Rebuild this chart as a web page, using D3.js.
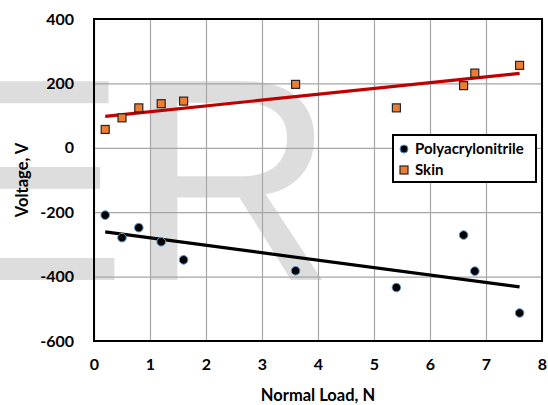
<!DOCTYPE html>
<html>
<head>
<meta charset="utf-8">
<script src="https://cdn.jsdelivr.net/npm/d3@7"></script>
<style>
  html, body { margin: 0; padding: 0; background: #fff; }
  svg { display: block; font-family: Lato, "Open Sans", sans-serif; font-weight: bold; }
</style>
</head>
<body>
<svg id="chart" width="548" height="405"></svg>
<script>
// Normal load (N) vs. voltage (V) readings.
const panLoad = [0.2, 0.5, 0.8, 1.2, 1.6, 3.6, 5.4, 6.6, 6.8, 7.6];
const panVolt = [-209, -279, -248, -292, -348, -382, -434, -271, -383, -513];
const skinLoad = [0.2, 0.5, 0.8, 1.2, 1.6, 3.6, 5.4, 6.6, 6.8, 7.6];
const skinVolt = [57, 93, 124, 137, 145, 197, 124, 193, 232, 256];
const xTicks = [0, 1, 2, 3, 4, 5, 6, 7, 8];
const yTicks = [-600, -400, -200, 0, 200, 400];

const svg = d3.select("#chart");
const m = { left: 94, top: 19, right: 542, bottom: 341 };

const x = d3.scaleLinear().domain([0, 8]).range([m.left, m.right]);
const y = d3.scaleLinear().domain([-600, 400]).range([m.bottom, m.top]);

// faint watermark behind everything
svg.append("text")
  .attr("x", -66).attr("y", 280)
  .attr("font-family", "'Liberation Sans', Arial, sans-serif")
  .attr("font-weight", "normal")
  .attr("font-size", 289)
  .attr("fill", "#dddddd")
  .text("ER");

// gridlines
svg.append("g")
  .attr("transform", `translate(0,${m.bottom})`)
  .call(d3.axisBottom(x).tickValues(xTicks).tickSize(-(m.bottom - m.top)).tickFormat(""))
  .call((g) => g.select(".domain").remove())
  .call((g) => g.selectAll("line").attr("stroke", "#a6a6a6").attr("stroke-width", 1.2));
svg.append("g")
  .attr("transform", `translate(${m.left},0)`)
  .call(d3.axisLeft(y).tickValues(yTicks).tickSize(-(m.right - m.left)).tickFormat(""))
  .call((g) => g.select(".domain").remove())
  .call((g) => g.selectAll("line").attr("stroke", "#a6a6a6").attr("stroke-width", 1.2));

// tick labels (plain hyphen for negatives, as in the source)
const plain = (d) => String(d);
svg.append("g")
  .attr("transform", `translate(${m.left},0)`)
  .call(d3.axisLeft(y).tickValues(yTicks).tickSize(0).tickPadding(20).tickFormat(plain))
  .call((g) => g.select(".domain").remove())
  .call((g) => g.selectAll("text")
    .attr("font-family", "Lato, sans-serif").attr("font-weight", "bold")
    .attr("font-size", 16).attr("fill", "#000"));
svg.append("g")
  .attr("transform", `translate(0,${m.bottom})`)
  .call(d3.axisBottom(x).tickValues(xTicks).tickSize(0).tickPadding(18).tickFormat(plain))
  .call((g) => g.select(".domain").remove())
  .call((g) => g.selectAll("text")
    .attr("font-family", "Lato, sans-serif").attr("font-weight", "bold")
    .attr("font-size", 16).attr("fill", "#000"));

// least-squares trendline for a series
function fit(xs, ys) {
  const mx = d3.mean(xs), my = d3.mean(ys);
  const sxy = d3.sum(xs, (v, i) => (v - mx) * (ys[i] - my));
  const sxx = d3.sum(xs, (v) => (v - mx) * (v - mx));
  const b = sxy / sxx, a = my - b * mx;
  const x0 = d3.min(xs), x1 = d3.max(xs);
  return [[x0, a + b * x0], [x1, a + b * x1]];
}
const line = d3.line().x((d) => x(d[0])).y((d) => y(d[1]));

svg.append("path").datum(fit(skinLoad, skinVolt))
  .attr("d", line).attr("stroke", "#c00000").attr("stroke-width", 3.2).attr("fill", "none");
svg.append("path").datum(fit(panLoad, panVolt))
  .attr("d", line).attr("stroke", "#000").attr("stroke-width", 3.2).attr("fill", "none");

// markers
svg.append("g").selectAll("circle")
  .data(panLoad.map((v, i) => [v, panVolt[i]]))
  .join("circle")
  .attr("cx", (d) => x(d[0])).attr("cy", (d) => y(d[1]))
  .attr("r", 4.3)
  .attr("fill", "#000").attr("stroke", "#5b9bd5").attr("stroke-width", 1);

const sq = 8;
svg.append("g").selectAll("rect")
  .data(skinLoad.map((v, i) => [v, skinVolt[i]]))
  .join("rect")
  .attr("x", (d) => x(d[0]) - sq / 2).attr("y", (d) => y(d[1]) - sq / 2)
  .attr("width", sq).attr("height", sq)
  .attr("fill", "#ed7d31").attr("stroke", "#262626").attr("stroke-width", 1.2);

// plot frame
svg.append("rect")
  .attr("x", m.left).attr("y", m.top)
  .attr("width", m.right - m.left).attr("height", m.bottom - m.top)
  .attr("fill", "none").attr("stroke", "#000").attr("stroke-width", 2);

// axis titles
svg.append("text")
  .attr("x", (m.left + m.right) / 2).attr("y", 401)
  .attr("text-anchor", "middle").attr("font-size", 16.5)
  .text("Normal Load, N");
svg.append("text")
  .attr("transform", `translate(28,${(m.top + m.bottom) / 2}) rotate(-90)`)
  .attr("text-anchor", "middle").attr("font-size", 16.5)
  .text("Voltage, V");

// legend
const lg = svg.append("g").attr("transform", "translate(393,135)");
lg.append("rect").attr("width", 143).attr("height", 47)
  .attr("fill", "#fff").attr("stroke", "#000").attr("stroke-width", 2);
lg.append("circle").attr("cx", 11).attr("cy", 14).attr("r", 4)
  .attr("fill", "#000").attr("stroke", "#5b9bd5").attr("stroke-width", 1);
lg.append("rect").attr("x", 7).attr("y", 31).attr("width", 8).attr("height", 8)
  .attr("fill", "#ed7d31").attr("stroke", "#262626").attr("stroke-width", 1.2);
lg.append("text").attr("x", 22).attr("y", 19).attr("font-size", 15).text("Polyacrylonitrile");
lg.append("text").attr("x", 22).attr("y", 40).attr("font-size", 15).text("Skin");
</script>
</body>
</html>
